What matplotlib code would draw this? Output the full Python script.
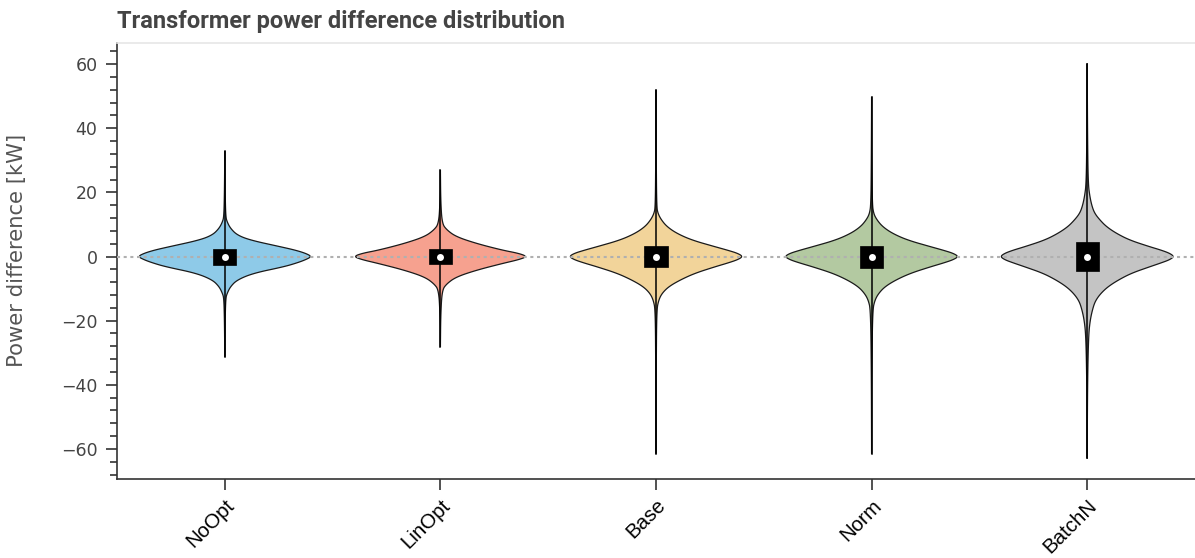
import numpy as np
import matplotlib
matplotlib.use('Agg')
import matplotlib.pyplot as plt
from matplotlib.patches import Rectangle

plt.rcParams['lines.scale_dashes'] = False

groups = ['NoOpt', 'LinOpt', 'Base', 'Norm', 'BatchN']
colors = ['#8ecae8', '#f6a18f', '#f2d49a', '#b3c9a1', '#c4c4c4']

# summary stats per group [kW]
y_min = [-31.3, -28.2, -61.5, -61.5, -63.0]
q1 = [-2.6, -2.4, -3.4, -3.7, -4.5]
median = [0.0, 0.0, 0.0, 0.0, 0.0]
q3 = [2.3, 2.4, 3.3, 3.3, 4.4]
y_max = [32.9, 27.0, 52.0, 49.8, 60.2]

# density outline: levels [kW] and relative half-width (1 = widest)
noopt_y = [-31.3, -20, -13.0, -11.5, -9.4, -7.3, -5.2, -3.2, -2.0, -1.0, 0,
           1.0, 2.0, 3.05, 5.1, 6.7, 8.8, 10.8, 12.4, 20, 32.9]
noopt_w = [0, 0.004, 0.011, 0.027, 0.065, 0.142, 0.33, 0.68, 0.83, 0.93, 1.0,
           0.93, 0.81, 0.64, 0.295, 0.142, 0.065, 0.027, 0.011, 0.004, 0]
linopt_y = [-28.2, -18, -10.5, -8.5, -6.4, -4.3, -2.2, -1.0, 0,
            1.0, 2.0, 4.1, 6.2, 8.3, 10.3, 17, 27.0]
linopt_w = [0, 0.004, 0.02, 0.073, 0.18, 0.41, 0.71, 0.9, 1.0,
            0.9, 0.71, 0.41, 0.18, 0.073, 0.02, 0.004, 0]
base_y = [-61.5, -35, -16.7, -13.6, -11.5, -9.4, -7.3, -5.2, -3.2, -2.0, -1.0, 0,
          1.0, 2.0, 3.05, 5.1, 7.2, 9.3, 11.4, 13.4, 15.5, 30, 52.0]
base_w = [0, 0.003, 0.008, 0.031, 0.069, 0.146, 0.28, 0.45, 0.68, 0.83, 0.94, 1.0,
          0.94, 0.82, 0.68, 0.415, 0.24, 0.127, 0.062, 0.023, 0.008, 0.003, 0]
norm_y = [-61.5, -35, -16.7, -13.6, -11.5, -9.4, -7.3, -5.2, -3.2, -2.0, -1.0, 0,
          1.0, 2.0, 3.05, 5.1, 7.2, 9.3, 11.4, 13.4, 16.5, 30, 49.8]
norm_w = [0, 0.003, 0.012, 0.038, 0.081, 0.154, 0.28, 0.45, 0.68, 0.83, 0.94, 1.0,
          0.94, 0.82, 0.68, 0.415, 0.24, 0.127, 0.062, 0.023, 0.008, 0.003, 0]
batchn_y = [-63, -40, -25, -19.8, -15.7, -13.6, -11.5, -9.4, -7.3, -5.2, -3.2, -2.0, -1.0, 0,
            1.0, 2.0, 3.05, 5.1, 7.2, 9.3, 11.4, 13.4, 15.5, 18.6, 22.8, 38, 60.2]
batchn_w = [0, 0.004, 0.015, 0.034, 0.069, 0.1, 0.157, 0.24, 0.36, 0.51, 0.72, 0.85, 0.95, 1.0,
            0.95, 0.85, 0.72, 0.49, 0.337, 0.222, 0.146, 0.088, 0.057, 0.031, 0.011, 0.004, 0]

profiles = [(noopt_y, noopt_w), (linopt_y, linopt_w), (base_y, base_w),
            (norm_y, norm_w), (batchn_y, batchn_w)]

half_width = 0.403
box_half = 0.054


def smooth(xs, ys, n=3):
    # corner cutting so the outline doesn't look faceted
    pts = np.column_stack([xs, ys])
    for _ in range(n):
        a = pts[:-1]
        b = pts[1:]
        q = 0.75 * a + 0.25 * b
        r = 0.25 * a + 0.75 * b
        new = np.empty((2 * len(a), 2))
        new[0::2] = q
        new[1::2] = r
        pts = np.vstack([pts[:1], new, pts[-1:]])
    return pts[:, 0], pts[:, 1]


fig = plt.figure(figsize=(11.95, 5.58), dpi=100)
ax = fig.add_axes([117/1195, 79/558, 1078/1195, 436/558])

for i, (py, pw) in enumerate(profiles):
    py = np.array(py)
    pw = np.array(pw) * half_width
    rx, ry = smooth(i + pw, py)
    lx, ly = smooth(i - pw, py)
    xs = np.concatenate([rx, lx[::-1]])
    ys = np.concatenate([ry, ly[::-1]])
    ax.fill(xs, ys, facecolor=colors[i], edgecolor='#1a1a1a', lw=0.9, zorder=2)

ax.axhline(0, color='#b0b0b0', lw=1.5, linestyle=(0, (2.2, 2.6)), zorder=3)

for i in range(len(groups)):
    ax.plot([i, i], [y_min[i], y_max[i]], color='black', lw=1.1, zorder=4)
    ax.add_patch(Rectangle((i - box_half, q1[i]), 2 * box_half, q3[i] - q1[i],
                           facecolor='black', edgecolor='black', lw=0.5, zorder=5))
    ax.plot(i, median[i], 'o', color='white', markersize=5, markeredgewidth=0, zorder=6)

ax.set_xlim(-0.5, 4.5)
ax.set_ylim(-69.4, 66.6)
ax.set_xticks(range(len(groups)))
ax.set_xticklabels(groups, rotation=45, ha='right', va='top', rotation_mode='anchor',
                   fontsize=14.8, family='Liberation Sans', color='black')
ax.set_yticks([-60, -40, -20, 0, 20, 40, 60])
ax.set_yticks(np.arange(-68, 66, 4), minor=True)
ax.tick_params(axis='y', labelsize=12.5, labelcolor='#444444', length=8, width=1.1,
               color='#222222', pad=6)
ax.tick_params(axis='y', which='minor', length=4.8, width=1.1, color='#222222')
ax.tick_params(axis='x', length=8, width=1.1, color='#222222', pad=4)

for s in ['left', 'bottom']:
    ax.spines[s].set_color('#333333')
    ax.spines[s].set_linewidth(1.2)
ax.spines['right'].set_visible(False)
ax.spines['top'].set_color('#e6e6e6')
ax.spines['top'].set_linewidth(1.2)

ax.set_ylabel('Power difference [kW]', fontsize=15.2, color='#555555')
ax.yaxis.set_label_coords(-0.0835, 0.525)

fig.text(117/1195, 1 - 28/558, 'Transformer power difference distribution',
         fontsize=17, fontweight='bold', color='#444444', family='Roboto', va='baseline')

fig.savefig('out.png', dpi=100)
